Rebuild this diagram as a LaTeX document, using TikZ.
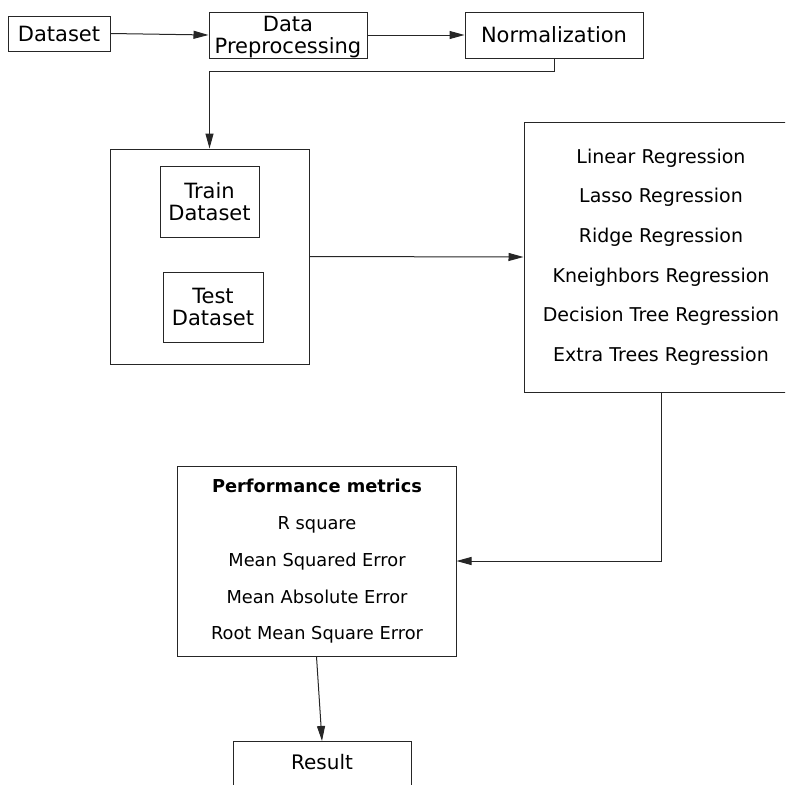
\documentclass[tikz,border=0pt]{standalone}
\usepackage{fontspec}
\setmainfont{DejaVu Sans}
\usetikzlibrary{arrows.meta}

\begin{document}
\begin{tikzpicture}[x=1pt,y=-1pt,
			box/.style={draw=black!85, line width=1pt, rectangle, inner sep=0pt},
			txt/.style={inner sep=0pt, text height=0.73em, text depth=0pt, yshift=-2.5pt},
			top/.style={font=\fontsize{21}{21.5}\selectfont},
			model/.style={txt, font=\fontsize{19}{20}\selectfont},
			metric/.style={txt, font=\fontsize{17.8}{20}\selectfont},
			flow/.style={draw=black!85, line width=1pt, -{Triangle[length=15pt,width=8pt]}}]
			\useasboundingbox (0,0) rectangle (785,785);
			\clip (0,0) rectangle (785,785);
			\node[box, top, minimum width=102pt, minimum height=35pt] (dataset) at (59,33.5) {Dataset};
			\node[box, top, minimum width=158pt, minimum height=46pt] (prep) at (288,35) {};
			\node[top, align=center, inner sep=0pt] (preptext) at (288,37) {Data\\Preprocessing};
			\node[box, top, minimum width=178pt, minimum height=46pt] (norm) at (554,35) {Normalization};
			\node[box, minimum width=199pt, minimum height=215pt] (split) at (209.5,256.5) {};
			\node[box, top, align=center, minimum width=99pt, minimum height=71pt] (train) at (209.5,201.5) {Train\\Dataset};
			\node[box, top, align=center, minimum width=100pt, minimum height=70pt] (test) at (213,307) {Test\\Dataset};
			\node[box, minimum width=274pt, minimum height=270pt] (models) at (661,257) {};
			\node[model] (linear) at (661,157) {Linear Regression};
			\node[model] (lasso) at (661,196.5) {Lasso Regression};
			\node[model] (ridge) at (661,236) {Ridge Regression};
			\node[model] (knn) at (661,276) {Kneighbors Regression};
			\node[model] (tree) at (661,315.5) {Decision Tree Regression};
			\node[model] (extra) at (661,355) {Extra Trees Regression};
			\node[box, minimum width=279pt, minimum height=190pt] (metrics) at (316.5,561) {};
			\node[metric, font=\fontsize{17.8}{20}\selectfont\bfseries] (perf) at (317,486) {Performance metrics};
			\node[metric] (rsq) at (317,523.5) {R square};
			\node[metric] (mse) at (317,560) {Mean Squared Error};
			\node[metric] (mae) at (317,597) {Mean Absolute Error};
			\node[metric] (rmse) at (317,633.5) {Root Mean Square Error};
			\node[box, minimum width=178pt, minimum height=60pt, anchor=north] (result) at (322,741) {};
			\node[txt, font=\fontsize{20}{22}\selectfont] (resulttext) at (322,763) {Result};
			\draw[flow] (dataset.east) -- (prep.west);
			\draw[flow] (prep.east) -- (norm.west);
			\draw[flow] (norm.south) -- ++(0,13) -| (split.north);
			\draw[flow] (split.east) -- (models.west);
			\draw[flow] (models.south) |- (metrics.east);
			\draw[flow] (metrics.south) -- (result.north);
		\end{tikzpicture}
\end{document}
